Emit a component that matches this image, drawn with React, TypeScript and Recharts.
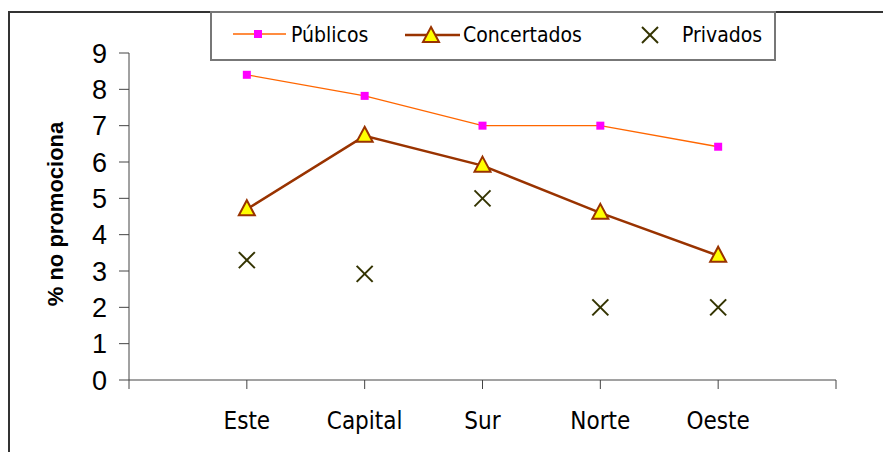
import React from "react";
import { LineChart, Line, XAxis, YAxis, Label } from "recharts";

const zones = ["Este", "Capital", "Sur", "Norte", "Oeste"];
const publicos = [8.4, 7.82, 7.0, 7.0, 6.42];
const concertados = [4.7, 6.72, 5.9, 4.6, 3.42];
const privados = [3.3, 2.92, 5.0, 2.0, 2.0];
const yTicks = [0, 1, 2, 3, 4, 5, 6, 7, 8, 9];
const xTicks = [0, 1, 2, 3, 4, 5, 6];

// zones sit on ticks 1..5, ticks 0 and 6 are empty ends
const data = zones.map((zone, i) => ({
  pos: i + 1,
  zone,
  publicos: publicos[i],
  concertados: concertados[i],
  privados: privados[i],
}));

const ORANGE = "#FF6600";
const MAGENTA = "#FF00FF";
const BROWN = "#993300";
const YELLOW = "#FFFF00";
const OLIVE = "#333300";
const labelFont = "'DejaVu Sans Condensed', 'DejaVu Sans', sans-serif";

const Square = ({ cx, cy }: any) => (
  <rect x={cx - 4} y={cy - 4} width={8} height={8} fill={MAGENTA} />
);

const Triangle = ({ cx, cy }: any) => (
  <polygon
    points={`${cx},${cy - 9} ${cx + 8},${cy + 6} ${cx - 8},${cy + 6}`}
    fill={YELLOW}
    stroke={BROWN}
    strokeWidth={2}
    strokeLinejoin="miter"
  />
);

const Cross = ({ cx, cy }: any) => (
  <g stroke={OLIVE} strokeWidth={2}>
    <line x1={cx - 8} y1={cy - 8} x2={cx + 8} y2={cy + 8} />
    <line x1={cx - 8} y1={cy + 8} x2={cx + 8} y2={cy - 8} />
  </g>
);

function ChartLegend() {
  return (
    <div
      style={{
        position: "absolute",
        left: 202,
        top: 3,
        width: 566,
        height: 50,
        boxSizing: "border-box",
        border: "2px solid #777",
        background: "#fff",
      }}
    >
      <svg width={566} height={50} style={{ position: "absolute", left: -2, top: -2 }}>
        <g fontFamily={labelFont} fontSize={21} fill="#000">
          <line x1={23} y1={23} x2={76} y2={23} stroke={ORANGE} strokeWidth={1.3} />
          <Square cx={48} cy={23} />
          <text x={81} y={31}>Públicos</text>

          <line x1={195} y1={24} x2={250} y2={24} stroke={BROWN} strokeWidth={2.5} />
          <Triangle cx={221} cy={25} />
          <text x={253} y={31}>Concertados</text>

          <Cross cx={440} cy={24} />
          <text x={472} y={31}>Privados</text>
        </g>
      </svg>
    </div>
  );
}

export default function App() {
  return (
    <div style={{ position: "relative", width: 875, height: 444, overflow: "hidden" }}>
      <div
        style={{
          position: "absolute",
          left: 0,
          top: 3,
          width: 1000,
          height: 1000,
          borderLeft: "2px solid #333",
          borderTop: "2px solid #333",
        }}
      />
      <LineChart
        width={875}
        height={444}
        data={data}
        margin={{ top: 45, right: 47, bottom: 12, left: 0 }}
        style={{ position: "absolute", left: 0, top: 0 }}
      >
        <XAxis
          dataKey="pos"
          type="number"
          domain={[0, 6]}
          ticks={xTicks}
          interval={0}
          tickFormatter={(v: number) => zones[v - 1] ?? ""}
          height={60}
          tickSize={9}
          tickMargin={23}
          stroke="#444"
          tick={{ fill: "#000", fontSize: 24, fontFamily: labelFont }}
        />
        <YAxis
          domain={[0, 9]}
          ticks={yTicks}
          interval={0}
          width={121}
          tickSize={10}
          tickMargin={12}
          stroke="#444"
          tick={{ fill: "#000", fontSize: 27, fontFamily: "'Liberation Sans', Arial, sans-serif" }}
        >
          <Label
            content={() => (
              <text
                x={47}
                y={206}
                transform="rotate(-90 47 206)"
                textAnchor="middle"
                dominantBaseline="central"
                fontFamily="'Liberation Sans', Arial, sans-serif"
                fontWeight="bold"
                fontSize={22}
                fill="#000"
              >
                % no promociona
              </text>
            )}
          />
        </YAxis>
        <Line
          dataKey="publicos"
          stroke={ORANGE}
          strokeWidth={1.3}
          dot={(p: any) => <Square key={`p${p.index}`} {...p} />}
          isAnimationActive={false}
        />
        <Line
          dataKey="concertados"
          stroke={BROWN}
          strokeWidth={2.5}
          dot={(p: any) => <Triangle key={`c${p.index}`} {...p} />}
          isAnimationActive={false}
        />
        <Line
          dataKey="privados"
          stroke="none"
          dot={(p: any) => <Cross key={`x${p.index}`} {...p} />}
          isAnimationActive={false}
        />
      </LineChart>
      <ChartLegend />
    </div>
  );
}
